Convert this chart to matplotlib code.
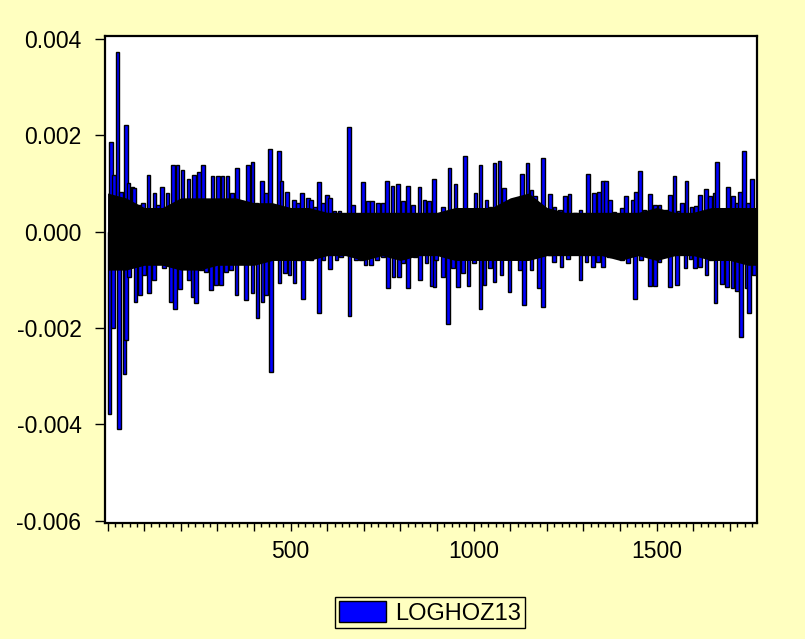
import matplotlib.pyplot as plt
from matplotlib.patches import Patch
from matplotlib.ticker import MultipleLocator, FuncFormatter

plt.rcParams['font.family'] = ['Liberation Sans', 'DejaVu Sans']

# valores: barras positivas (observacion, valor)
up_obs = [9, 18, 27, 36, 50, 57, 68, 73, 85, 96, 112, 128, 137, 148, 164, 178, 191, 205, 221, 237,
          249, 260, 273, 287, 301, 314, 328, 340, 353, 369, 383, 396, 407, 421, 433, 444,
          468, 475, 490, 499, 509, 520, 532, 547, 556, 566, 577, 588, 599, 608, 620, 634,
          648, 659, 670, 681, 698, 711, 723, 739, 752, 763, 778, 793, 807, 821, 834, 852,
          866, 878, 891, 903,
          916, 934, 950, 962, 977, 989, 1005, 1019, 1035, 1046, 1057, 1071, 1083, 1094,
          1112, 1132, 1147, 1158, 1168, 1189, 1208, 1221, 1235, 1249, 1262, 1276, 1292,
          1312, 1329, 1342, 1353,
          1361, 1373, 1385, 1399, 1406, 1417, 1435, 1443, 1454, 1467, 1481, 1495, 1508,
          1525, 1537, 1549, 1560, 1570, 1581, 1595, 1608, 1619, 1634, 1645, 1658, 1665,
          1681, 1695, 1709, 1720, 1727, 1738, 1750, 1761]
up_val = [0.00185, 0.00118, 0.00373, 0.00083, 0.00222, 0.00100, 0.00092, 0.00090, 0.00056, 0.00060,
          0.00118, 0.00081, 0.00056, 0.00092, 0.00080, 0.00139, 0.00139, 0.00128, 0.00109, 0.00118,
          0.00123, 0.00139, 0.00065, 0.00115, 0.00115, 0.00115, 0.00115, 0.00080, 0.00132, 0.00063,
          0.00139, 0.00144, 0.00060, 0.00104, 0.00080, 0.00172,
          0.00167, 0.00104, 0.00083, 0.00045, 0.00066, 0.00060, 0.00080, 0.00069, 0.00065, 0.00052,
          0.00102, 0.00060, 0.00076, 0.00069, 0.00042, 0.00042, 0.00035, 0.00217, 0.00056, 0.00035,
          0.00102, 0.00063, 0.00063, 0.00060, 0.00060, 0.00106, 0.00094, 0.00099, 0.00063, 0.00095,
          0.00056, 0.00092, 0.00065, 0.00063, 0.00109, 0.00028,
          0.00052, 0.00132, 0.00099, 0.00038, 0.00156, 0.00042, 0.00080, 0.00139, 0.00066, 0.00052,
          0.00142, 0.00146, 0.00090, 0.00031, 0.00066, 0.00120, 0.00142, 0.00087, 0.00073, 0.00153,
          0.00078, 0.00052, 0.00045, 0.00073, 0.00078, 0.00038, 0.00045, 0.00120, 0.00080, 0.00083,
          0.00106,
          0.00106, 0.00066, 0.00040, 0.00035, 0.00049, 0.00074, 0.00066, 0.00083, 0.00125, 0.00045,
          0.00078, 0.00056, 0.00056, 0.00045, 0.00076, 0.00115, 0.00042, 0.00060, 0.00106, 0.00052,
          0.00053, 0.00076, 0.00088, 0.00073, 0.00081, 0.00144, 0.00042, 0.00092, 0.00073, 0.00060,
          0.00083, 0.00167, 0.00060, 0.00109]

# barras negativas
down_obs = [5, 15, 32, 46, 50, 59, 76, 88, 100, 114, 126, 155, 173, 185, 198, 209, 223, 232, 241, 255,
            269, 282, 296, 310, 323, 337, 352, 364, 378, 396, 410, 423, 432, 446,
            470, 484, 497, 511, 523, 534, 556, 577, 590, 608, 625, 638, 661, 678, 693, 705,
            720, 736, 752, 766, 781, 796, 807, 821, 839, 854, 871, 887, 898,
            893, 916, 930, 944, 957, 971, 986, 1001, 1019, 1030, 1044, 1057, 1076, 1098, 1112,
            1126, 1138, 1158, 1178, 1189, 1208, 1219, 1240, 1258, 1274, 1292, 1308, 1326, 1340, 1353,
            1370, 1385, 1406, 1422, 1440, 1458, 1481, 1495, 1508, 1526, 1536, 1556, 1579, 1592,
            1604, 1618, 1636, 1649, 1661, 1679, 1692, 1707, 1720, 1731, 1745, 1752, 1765]
down_val = [-0.00378, -0.00201, -0.00410, -0.00295, -0.00226, -0.00094, -0.00146, -0.00132, -0.00090, -0.00128,
            -0.00100, -0.00076, -0.00146, -0.00160, -0.00120, -0.00076, -0.00100, -0.00135, -0.00149, -0.00080,
            -0.00083, -0.00121, -0.00111, -0.00111, -0.00083, -0.00080, -0.00132, -0.00066, -0.00142, -0.00128,
            -0.00180, -0.00146, -0.00132, -0.00292,
            -0.00106, -0.00087, -0.00090, -0.00106, -0.00059, -0.00139, -0.00059, -0.00169, -0.00059, -0.00078,
            -0.00059, -0.00052, -0.00176, -0.00059, -0.00059, -0.00069, -0.00069, -0.00059, -0.00052, -0.00118,
            -0.00094, -0.00094, -0.00066, -0.00118, -0.00052, -0.00100, -0.00066, -0.00113, -0.00059,
            -0.00115, -0.00094, -0.00192, -0.00076, -0.00116, -0.00087, -0.00113, -0.00066, -0.00160, -0.00111,
            -0.00076, -0.00104, -0.00090, -0.00125, -0.00042, -0.00080, -0.00153, -0.00080, -0.00118, -0.00156,
            -0.00049, -0.00063, -0.00074, -0.00056, -0.00038, -0.00100, -0.00063, -0.00073, -0.00063, -0.00073,
            -0.00052, -0.00028, -0.00059, -0.00066, -0.00139, -0.00059, -0.00113, -0.00113, -0.00063, -0.00038,
            -0.00116, -0.00111, -0.00076, -0.00056, -0.00076, -0.00073, -0.00090, -0.00059, -0.00149, -0.00108,
            -0.00115, -0.00118, -0.00123, -0.00219, -0.00118, -0.00170, -0.00090]

# banda negra densa alrededor de cero (envolvente aproximada, cada 50 obs)
core_obs = [0, 50, 100, 150, 200, 250, 300, 350, 400, 450, 500, 550, 600, 650, 700, 750, 800, 850,
            900, 950, 1000, 1050, 1100, 1150, 1200, 1250, 1300, 1350, 1400, 1450, 1500, 1550, 1600,
            1650, 1700, 1750, 1774]
core_hi = [0.0008, 0.0007, 0.0005, 0.0005, 0.0007, 0.0007, 0.0007, 0.0007, 0.0006, 0.0006,
           0.0005, 0.0005, 0.0004, 0.0004, 0.0004, 0.0004, 0.0004, 0.0004, 0.0004, 0.0005,
           0.0005, 0.0005, 0.0007, 0.0008, 0.0005, 0.0004, 0.0004, 0.0004, 0.0004, 0.0004,
           0.0005, 0.0004, 0.0004, 0.0005, 0.0005, 0.0005, 0.0005]
core_lo = [-0.0008, -0.0008, -0.0007, -0.0007, -0.0008, -0.0008, -0.0007, -0.0007, -0.0007, -0.0006,
           -0.0006, -0.0006, -0.0005, -0.0005, -0.0006, -0.0005, -0.0006, -0.0005, -0.0005, -0.0006,
           -0.0006, -0.0006, -0.0006, -0.0006, -0.0005, -0.0005, -0.0005, -0.0005, -0.0006, -0.0005,
           -0.0006, -0.0005, -0.0005, -0.0006, -0.0006, -0.0007, -0.0007]

serie = 'LOGHOZ13'
fondo = '#FFFFC0'

# ordenar por observacion para dibujar como EViews
pares = sorted(zip(up_obs + down_obs, up_val + down_val))
obs = [p[0] for p in pares]
vals = [p[1] for p in pares]

fig = plt.figure(figsize=(8.05, 6.39), dpi=100, facecolor=fondo)
ax = fig.add_axes([105/805, 1-523/639, (757-105)/805, (523-36)/639])
ax.set_facecolor('white')

ax.bar(obs, vals, width=10, color='#0000FF', edgecolor='black', linewidth=1.0, zorder=2)
ax.fill_between(core_obs, core_lo, core_hi, color='black', linewidth=0, zorder=3)

ax.set_xlim(-7, 1774)
ax.set_ylim(-0.00605, 0.00406)

ax.set_yticks([-0.006, -0.004, -0.002, 0.0, 0.002, 0.004])
ax.yaxis.set_major_formatter(FuncFormatter(lambda v, p: '%.3f' % (round(v, 3) + 0.0)))
ax.xaxis.set_major_locator(MultipleLocator(100))
ax.xaxis.set_minor_locator(MultipleLocator(20))
ax.xaxis.set_major_formatter(FuncFormatter(lambda v, p: '%d' % v if v > 0 and round(v) % 500 == 0 else ''))

ax.tick_params(axis='y', direction='out', length=7, width=1, pad=10, labelsize=16.5, colors='black')
ax.tick_params(axis='x', which='major', direction='out', length=6, width=1, pad=6, labelsize=16.5)
ax.tick_params(axis='x', which='minor', direction='out', length=3, width=1)
for s in ax.spines.values():
    s.set_linewidth(1.6)
    s.set_color('black')

leg = fig.legend(handles=[Patch(facecolor='#0000FF', edgecolor='black', linewidth=1)], labels=[serie],
                 loc='upper center', bbox_to_anchor=(430/805, 1-597/639), frameon=True, fancybox=False,
                 edgecolor='black', facecolor=fondo, framealpha=1, fontsize=17,
                 handlelength=2.0, handleheight=1.05, handletextpad=0.4, borderpad=0.15, borderaxespad=0)
leg.get_frame().set_linewidth(1)

fig.savefig('out.png', dpi=100, facecolor=fondo)
